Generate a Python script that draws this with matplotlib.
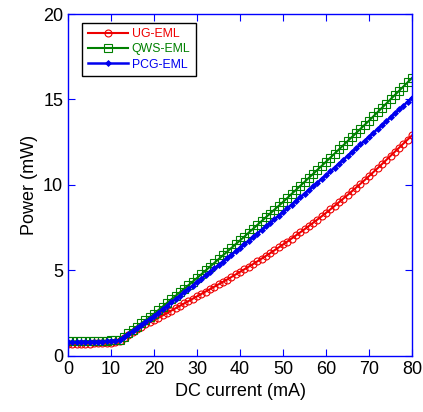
import numpy as np
import matplotlib
matplotlib.use('Agg')
import matplotlib.pyplot as plt

plt.rcParams['font.family'] = ['Liberation Sans', 'DejaVu Sans']

current = np.arange(0, 81)  # mA

ug_eml = [0.70, 0.70, 0.71, 0.71, 0.72, 0.72, 0.73, 0.74, 0.75, 0.76, 0.78, 0.80, 0.85,
          1.05, 1.25, 1.42, 1.58, 1.72, 1.85, 1.97, 2.09,
          2.23, 2.37, 2.51, 2.65, 2.79, 2.93, 3.07, 3.21, 3.35, 3.49,
          3.63, 3.77, 3.91, 4.05, 4.19, 4.33, 4.47, 4.62, 4.77, 4.92,
          5.07, 5.22, 5.37, 5.53, 5.69, 5.85, 6.01, 6.18, 6.35, 6.52,
          6.69, 6.87, 7.05, 7.23, 7.41, 7.60, 7.79, 7.98, 8.17, 8.37,
          8.57, 8.78, 8.99, 9.20, 9.41, 9.63, 9.85, 10.07, 10.29, 10.52,
          10.75, 10.98, 11.22, 11.46, 11.70, 11.94, 12.18, 12.42, 12.66, 12.90]

qws_eml = [0.85, 0.85, 0.86, 0.86, 0.87, 0.87, 0.88, 0.88, 0.89, 0.90, 0.91, 0.92, 0.95,
           1.12, 1.32, 1.52, 1.71, 1.90, 2.09, 2.28, 2.47,
           2.68, 2.89, 3.10, 3.31, 3.51, 3.72, 3.93, 4.14, 4.35, 4.56,
           4.78, 5.00, 5.22, 5.44, 5.66, 5.88, 6.10, 6.32, 6.54, 6.76,
           6.98, 7.21, 7.43, 7.66, 7.88, 8.11, 8.33, 8.56, 8.78, 9.01,
           9.24, 9.48, 9.71, 9.95, 10.18, 10.42, 10.65, 10.89, 11.12, 11.36,
           11.60, 11.84, 12.08, 12.32, 12.56, 12.80, 13.04, 13.28, 13.52, 13.76,
           14.01, 14.26, 14.51, 14.76, 15.01, 15.26, 15.51, 15.76, 16.01, 16.26]

pcg_eml = [0.80, 0.80, 0.81, 0.81, 0.82, 0.82, 0.83, 0.83, 0.84, 0.85, 0.86, 0.88, 0.92,
           1.09, 1.28, 1.46, 1.64, 1.82, 2.00, 2.17, 2.34,
           2.54, 2.74, 2.93, 3.13, 3.33, 3.53, 3.73, 3.93, 4.12, 4.32,
           4.52, 4.72, 4.92, 5.12, 5.32, 5.52, 5.72, 5.92, 6.12, 6.32,
           6.53, 6.74, 6.95, 7.16, 7.37, 7.58, 7.79, 8.00, 8.21, 8.42,
           8.64, 8.85, 9.07, 9.28, 9.50, 9.71, 9.93, 10.14, 10.36, 10.57,
           10.80, 11.02, 11.25, 11.47, 11.70, 11.92, 12.15, 12.37, 12.60, 12.82,
           13.05, 13.28, 13.50, 13.73, 13.96, 14.19, 14.42, 14.64, 14.87, 15.10]

fig = plt.figure(figsize=(4.23, 4.12), dpi=100)
ax = fig.add_axes([0.161, 0.136, 0.813, 0.830])

ax.plot(current, ug_eml, color='#ee0000', lw=1.5, marker='o', ms=5,
        mfc='none', mew=0.8, label='UG-EML')
ax.plot(current, qws_eml, color='#008000', lw=1.5, marker='s', ms=5.5,
        mfc='none', mew=0.8, label='QWS-EML')
ax.plot(current, pcg_eml, color='#0000ee', lw=1.8, marker='D', ms=3,
        mfc='#0000ee', mew=0.6, label='PCG-EML')

ax.set_xlim(0, 80)
ax.set_ylim(0, 20)
ax.set_xticks(np.arange(0, 81, 10))
ax.set_yticks(np.arange(0, 21, 5))
ax.tick_params(direction='in', colors='#0000ff', labelcolor='black',
               top=True, right=True, length=5, labelsize=13)
for s in ax.spines.values():
    s.set_color('#0000ff')
    s.set_linewidth(1.0)

ax.set_xlabel('DC current (mA)', fontsize=13)
ax.set_ylabel('Power (mW)', fontsize=13)

leg = ax.legend(loc='upper left', bbox_to_anchor=(0.041, 0.974), borderaxespad=0,
                fontsize=8.8, fancybox=False, edgecolor='black', framealpha=1,
                handlelength=3.3, borderpad=0.45, labelspacing=0.25,
                handletextpad=0.3)
leg.get_frame().set_linewidth(1.0)
for txt, c in zip(leg.get_texts(), ['#ee0000', '#008000', '#0000ee']):
    txt.set_color(c)

fig.savefig('out.png', dpi=100)
